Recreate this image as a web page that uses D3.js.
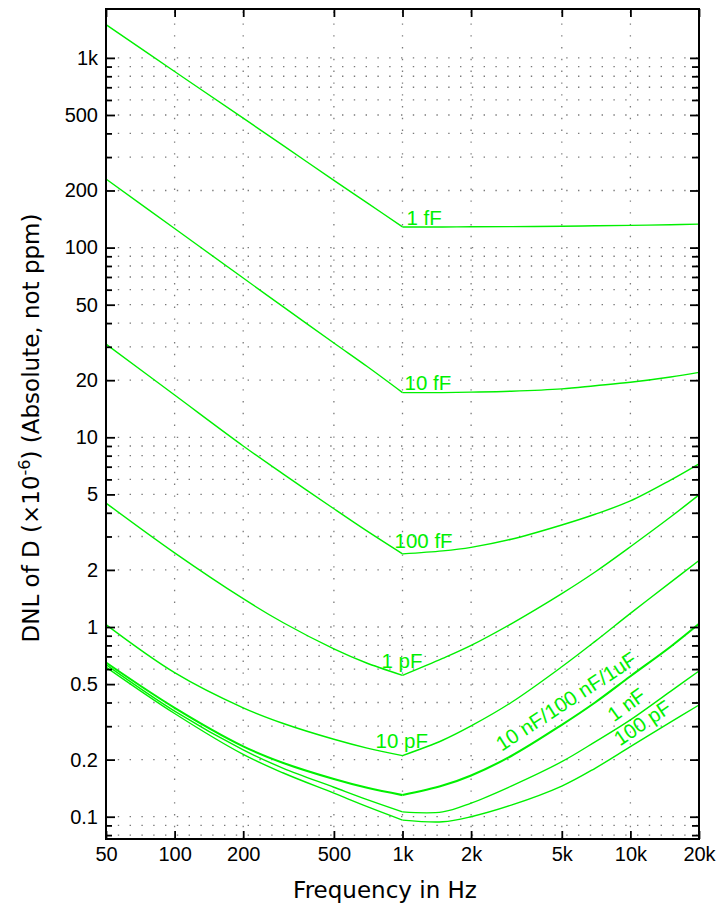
<!DOCTYPE html>
<html><head><meta charset="utf-8">
<script src="https://cdn.jsdelivr.net/npm/d3@7"></script>
<style>body{margin:0;background:#fff}</style>
</head><body>
<svg id="chart" width="719" height="907"></svg>
<script>
// ---- data ----
const freq = [50,100,200,300,500,700,1000,1500,2000,3000,5000,7000,10000,15000,20000];
const dnl1fF   = [1498,848,481,345,226,172,128.5,128.5,128.7,129,129.5,130.3,131,132,133];
const dnl10fF  = [230,126,69.1,48.7,31.4,23.6,17.2,17.2,17.3,17.5,18.0,18.7,19.5,20.8,22];
const dnl100fF = [31,16.7,9.0,6.4,4.2,3.2,2.43,2.52,2.63,2.9,3.45,3.93,4.62,5.95,7.25];
const dnl1pF   = [4.5,2.46,1.41,1.053,0.767,0.644,0.556,0.683,0.80,1.04,1.50,1.95,2.65,3.8,4.97];
const dnl10pF  = [1.03,0.575,0.375,0.31,0.256,0.23,0.21,0.253,0.301,0.40,0.617,0.84,1.18,1.72,2.24];
const dnl10nF  = [0.65,0.375,0.235,0.192,0.158,0.142,0.13,0.146,0.165,0.209,0.305,0.40,0.55,0.787,1.04];
const dnl1nF   = [0.633,0.36,0.225,0.18,0.143,0.123,0.106,0.106,0.118,0.145,0.195,0.248,0.324,0.458,0.586];
const dnl100pF = [0.615,0.35,0.213,0.17,0.133,0.113,0.096,0.094,0.10,0.115,0.145,0.18,0.234,0.315,0.388];
const seriesNames = ["1 fF","10 fF","100 fF","1 pF","10 pF","10 nF/100 nF/1uF","1 nF","100 pF"];
const seriesValues = [dnl1fF,dnl10fF,dnl100fF,dnl1pF,dnl10pF,dnl10nF,dnl1nF,dnl100pF];
const breakFreq = 1000;

const xTickValues = [50,100,200,500,1000,2000,5000,10000,20000];
const xTickLabels = ["50","100","200","500","1k","2k","5k","10k","20k"];
const yTickValues = [0.1,0.2,0.5,1,2,5,10,20,50,100,200,500,1000];
const yTickLabels = ["0.1","0.2","0.5","1","2","5","10","20","50","100","200","500","1k"];
const xDomain = [50,20000];
const yDomain = [0.0763,1810];

// ---- layout ----
const L=106, R=699, T=9, B=839;
const GREEN="#00f000";
const svg=d3.select("#chart");
const x=d3.scaleLog().domain(xDomain).range([L,R]);
const y=d3.scaleLog().domain(yDomain).range([B,T]);

// minor y values
const yMinor=[];
for(let e=-2;e<=3;e++) for(let k=1;k<=9;k++){const v=+(k*Math.pow(10,e)).toPrecision(3); if(v>=yDomain[0]&&v<=yDomain[1]) yMinor.push(v);}

// grid (dotted)
const grid=svg.append("g").attr("stroke","#7a7a7a").attr("stroke-width",1.3).attr("stroke-dasharray","1.4 10.4");
grid.selectAll("line.h").data(yMinor).join("line").attr("class","h")
  .attr("x1",L).attr("x2",R).attr("y1",d=>y(d)).attr("y2",d=>y(d));
grid.selectAll("line.v").data(xTickValues.slice(1,-1)).join("line").attr("class","v")
  .attr("y1",B).attr("y2",T).attr("x1",d=>x(d)).attr("x2",d=>x(d));

// curves: two smooth branches meeting at the 1 kHz break
const line=d3.line().x(d=>x(d[0])).y(d=>y(d[1])).curve(d3.curveCatmullRom.alpha(0.5));
const cg=svg.append("g").attr("fill","none").attr("stroke",GREEN).attr("stroke-linejoin","round");
seriesValues.forEach((vals,i)=>{
  const pts=freq.map((f,j)=>[f,vals[j]]);
  const left=pts.filter(p=>p[0]<=breakFreq), right=pts.filter(p=>p[0]>=breakFreq);
  [left,right].forEach(part=>{
    cg.append("path").datum(part).attr("stroke-width", i===5?2.1:1.4).attr("d",line);
  });
});

// axes via d3 axis generators
const tickFmtY=d=>{const i=yTickValues.indexOf(d);return i>=0?yTickLabels[i]:"";};
const tickFmtX=d=>{const i=xTickValues.indexOf(d);return i>=0?xTickLabels[i]:"";};
const axL=svg.append("g").attr("transform",`translate(${L},0)`)
  .call(d3.axisLeft(y).tickValues(yMinor).tickSize(-6).tickPadding(8).tickFormat(tickFmtY));
const axR=svg.append("g").attr("transform",`translate(${R},0)`)
  .call(d3.axisRight(y).tickValues(yMinor).tickSize(-6).tickFormat(""));
const axB=svg.append("g").attr("transform",`translate(0,${B})`)
  .call(d3.axisBottom(x).tickValues(xTickValues).tickSize(-8).tickPadding(8).tickFormat(tickFmtX));
const axT=svg.append("g").attr("transform",`translate(0,${T})`)
  .call(d3.axisTop(x).tickValues(xTickValues).tickSize(-8).tickFormat(""));
[axL,axR,axB,axT].forEach(a=>{
  a.select(".domain").remove();
  a.selectAll(".tick line").attr("stroke","#000").attr("stroke-width",1.8);
  a.selectAll("text").attr("font-family","Liberation Sans, Arial, sans-serif").attr("font-size",20).attr("fill","#000");
});
axL.selectAll(".tick line").attr("x2",d=>yTickValues.includes(d)?9:6);
axR.selectAll(".tick line").attr("x2",d=>yTickValues.includes(d)?-9:-7);

// frame
svg.append("rect").attr("x",L).attr("y",T).attr("width",R-L).attr("height",B-T)
  .attr("fill","none").attr("stroke","#000").attr("stroke-width",2);

// axis titles
svg.append("text").attr("x",385).attr("y",898).attr("text-anchor","middle")
  .attr("font-family","DejaVu Sans, Verdana, sans-serif").attr("font-size",23).text("Frequency in Hz");
const yt=svg.append("text").attr("transform","translate(39,428) rotate(-90)").attr("text-anchor","middle")
  .attr("font-family","DejaVu Sans, Verdana, sans-serif").attr("font-size",23);
yt.append("tspan").text("DNL of D (\u00d710");
yt.append("tspan").attr("font-size",16).attr("dy",-9).text("-6");
yt.append("tspan").attr("dy",9).text(") (Absolute, not ppm)");

// curve labels (anchored at data coordinates)
const labelFreq  = [1000,1000,1000,1000,1000,2723,8470,9000];
const labelValue = [128.5,17.2,2.43,0.556,0.21,0.195,0.285,0.21];
const labelDx = [4,2,-8,-21,-27,0,0,0];
const labelDy = [-2,-3,-6,-7,-8,-10,-8,-9];
const labelRot = [0,0,0,0,0,-33,-36,-34];
seriesNames.forEach((n,i)=>{
  const px=x(labelFreq[i])+labelDx[i], py=y(labelValue[i])+labelDy[i];
  svg.append("text").attr("transform",`translate(${px},${py}) rotate(${labelRot[i]})`)
    .attr("font-family","Liberation Sans, Arial, sans-serif").attr("font-size",20.5)
    .attr("fill",GREEN).text(n);
});
</script>
</body></html>
